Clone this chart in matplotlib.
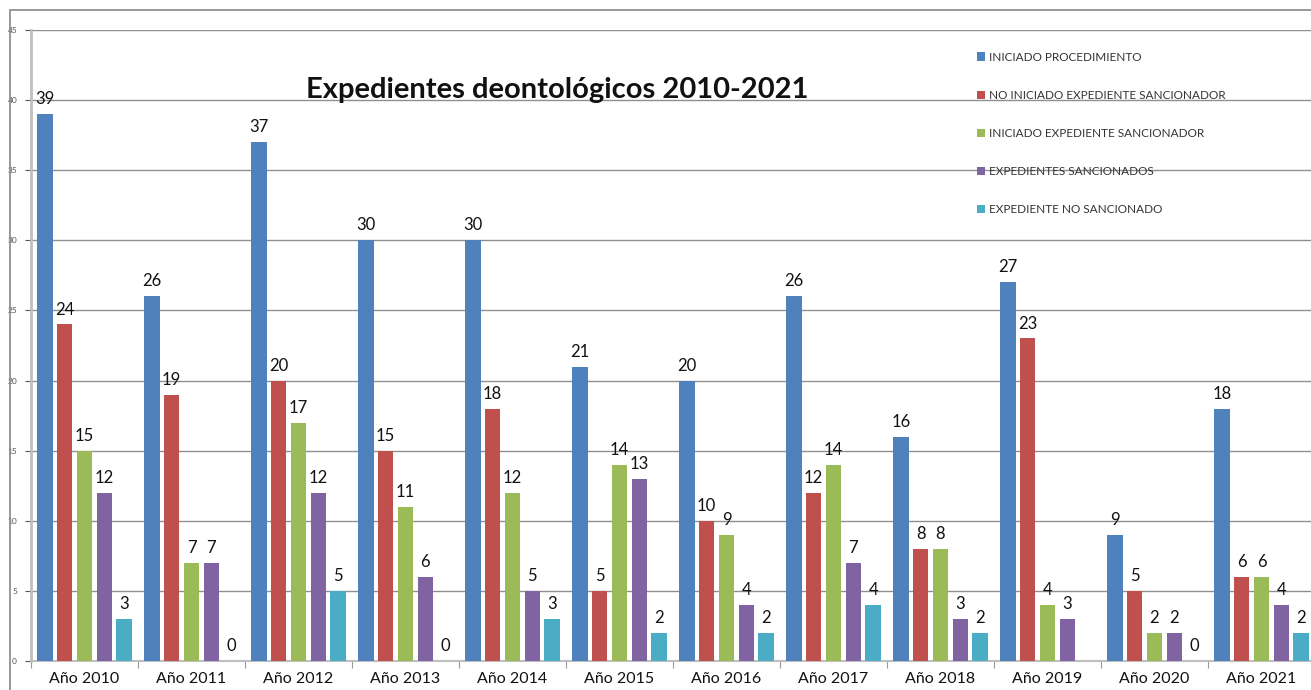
import matplotlib
matplotlib.use("Agg")
import matplotlib.pyplot as plt
import matplotlib.patches as mpatches
import numpy as np

plt.rcParams['font.family'] = ['Lato', 'DejaVu Sans']

years = ["Año 2010", "Año 2011", "Año 2012", "Año 2013", "Año 2014", "Año 2015",
         "Año 2016", "Año 2017", "Año 2018", "Año 2019", "Año 2020", "Año 2021"]
series_names = ["INICIADO PROCEDIMIENTO", "NO INICIADO EXPEDIENTE SANCIONADOR",
                "INICIADO EXPEDIENTE SANCIONADOR", "EXPEDIENTES SANCIONADOS",
                "EXPEDIENTE NO SANCIONADO"]
iniciado_proc = [39, 26, 37, 30, 30, 21, 20, 26, 16, 27, 9, 18]
no_iniciado = [24, 19, 20, 15, 18, 5, 10, 12, 8, 23, 5, 6]
iniciado_exp = [15, 7, 17, 11, 12, 14, 9, 14, 8, 4, 2, 6]
sancionados = [12, 7, 12, 6, 5, 13, 4, 7, 3, 3, 2, 4]
no_sancionado = [3, 0, 5, 0, 3, 2, 2, 4, 2, None, 0, 2]
colors = ["#4F81BD", "#C0504D", "#9BBB59", "#8064A2", "#4BACC6"]

W, H = 1311, 690
fig = plt.figure(figsize=(W / 100, H / 100), dpi=100)
# outer chart border
fig.patches.append(mpatches.Rectangle((10 / W, -0.1), 1.2, 1 - 10 / H + 0.1,
                                      transform=fig.transFigure, fill=False,
                                      edgecolor="#888888", lw=1.2))
ax = fig.add_axes([31 / W, 29 / H, 1284 / W, 631 / H])

x = np.arange(len(years))
step = 0.185
width = 0.145
all_series = [iniciado_proc, no_iniciado, iniciado_exp, sancionados, no_sancionado]
for i, (vals, name, c) in enumerate(zip(all_series, series_names, colors)):
    pos = x + 0.5 + (i - 2) * step
    v = np.array([np.nan if val is None else val for val in vals], dtype=float)
    ax.bar(pos, v, width=width, color=c, label=name, zorder=3)
    for p, val in zip(pos, vals):
        if val is None:
            continue
        ax.annotate(str(val), (p, val), xytext=(0, 5), textcoords="offset points",
                    ha="center", va="bottom", fontsize=12, color="#111111")

ax.set_xlim(0, len(years))
ax.set_ylim(0, 45)
ax.set_yticks(range(0, 46, 5))
ax.tick_params(axis="y", labelsize=6, colors="#555555", length=4, pad=6)
ax.set_xticks(np.arange(len(years) + 1))
ax.set_xticklabels([])
ax.set_xticks(x + 0.5, minor=True)
ax.set_xticklabels(years, minor=True, fontsize=11.5)
ax.tick_params(axis="x", which="major", length=5, color="#999999")
ax.tick_params(axis="x", which="minor", length=0, pad=8, labelcolor="#111111")
ax.yaxis.grid(True, color="#8f8f8f", lw=1, zorder=0)
for s in ["top", "right"]:
    ax.spines[s].set_visible(False)
ax.spines["left"].set_color("#BFBFBF")
ax.spines["left"].set_linewidth(2)
ax.spines["bottom"].set_color("#BFBFBF")
ax.spines["bottom"].set_linewidth(1.5)

fig.text(557 / W, 1 - 90 / H, "Expedientes deontológicos 2010-2021", ha="center",
         va="center", fontsize=21, fontweight="bold", color="#111111")

fig.legend(loc="upper left", bbox_to_anchor=(972 / W, 1 - 47 / H), frameon=False,
           fontsize=8.5, labelcolor="#333333", handlelength=0.7, handleheight=0.7,
           handletextpad=0.3, labelspacing=2.3, borderaxespad=0)

fig.savefig("out.png", dpi=100, facecolor="white")
